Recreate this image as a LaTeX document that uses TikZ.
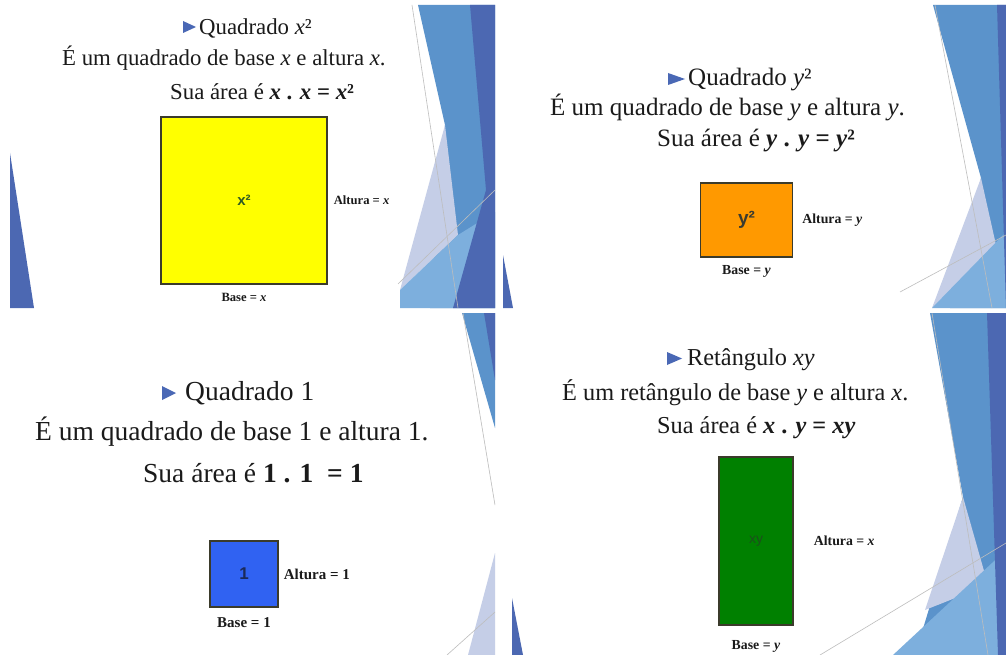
\documentclass[tikz,border=0pt]{standalone}
\usepackage{fontspec}
\setmainfont{Liberation Serif}
\newfontfamily\labelsans{Liberation Sans}
\usetikzlibrary{positioning}
\definecolor{facetmid}{HTML}{5B93CB}
\definecolor{facetdark}{HTML}{4C68B2}
\definecolor{facetlav}{HTML}{C5CEE7}
\definecolor{facetlight}{HTML}{7DAFDD}
\definecolor{facetgrey}{HTML}{BDBDBD}
\definecolor{bulletblue}{HTML}{4A68B5}
\definecolor{slideink}{HTML}{1A1A1A}
\definecolor{boxedge}{HTML}{3B3B2B}
\definecolor{boxyellow}{HTML}{FFFF00}
\definecolor{boxorange}{HTML}{FF9900}
\definecolor{boxblue}{HTML}{3062F2}
\definecolor{boxgreen}{HTML}{008000}
\newcommand\ptsize[1]{\fontsize{#1}{#1}\selectfont}
\tikzset{
  slideline/.style={anchor=base west,inner sep=0pt,text=slideink},
  areabox/.style={draw=boxedge,line width=1.3pt,inner sep=0pt},
  sidelabel/.style={inner sep=0pt,text=slideink},
  facetline/.style={draw=facetgrey,line width=0.6pt}
}
\begin{document}
\begin{tikzpicture}[x=1pt,y=-1pt]
\useasboundingbox (0,0) rectangle (1006,655);
\fill[white] (0,0) rectangle (1006,655);
\begin{scope}
\clip (10,5) rectangle (495,308);
\fill[facetmid] (418,5) -- (495,5) -- (495,308) -- (430,308) -- (445,125) -- cycle;
\fill[facetlav] (445,125) -- (458,235) -- (400,290) -- cycle;
\fill[facetlight] (400,290) -- (458,235) -- (495,212) -- (495,308) -- (400,308) -- cycle;
\fill[facetdark] (470,5) -- (495,5) -- (495,308) -- (453,308) -- (486,190) -- cycle;
\draw[facetline] (412,5) -- (458,308);
\draw[facetline] (398,284) -- (495,190);
\fill[facetdark] (10,153) -- (34,308) -- (10,308) -- cycle;
\end{scope}
\begin{scope}
\clip (503,5) rectangle (1006,308);
\fill[facetmid] (933,5) -- (1006,5) -- (1006,308) -- (950,308) -- (981,178) -- cycle;
\fill[facetlav] (981,178) -- (996,245) -- (932,308) -- cycle;
\fill[facetlight] (932,308) -- (1006,232) -- (1006,308) -- cycle;
\fill[facetdark] (997,5) -- (1006,5) -- (1006,308) -- cycle;
\draw[facetline] (935,5) -- (992,308);
\draw[facetline] (900,292) -- (1006,235);
\fill[facetdark] (503,255) -- (513,308) -- (503,308) -- cycle;
\end{scope}
\begin{scope}
\clip (10,313) rectangle (495,655);
\fill[facetmid] (462,313) -- (495,313) -- (495,428) -- cycle;
\fill[facetdark] (484,313) -- (495,313) -- (495,380) -- cycle;
\fill[facetlav] (468,655) -- (495,553) -- (495,655) -- cycle;
\draw[facetline] (463,313) -- (495,505);
\draw[facetline] (447,655) -- (495,612);
\end{scope}
\begin{scope}
\clip (503,313) rectangle (1006,655);
\fill[facetmid] (930,313) -- (1006,313) -- (1006,655) -- (915,655) -- (963,497) -- cycle;
\fill[facetlav] (963,497) -- (988,585) -- (925,610) -- cycle;
\fill[facetlight] (893,655) -- (1006,550) -- (1006,655) -- cycle;
\fill[facetdark] (987,313) -- (1006,313) -- (1006,655) -- (998,655) -- cycle;
\draw[facetline] (932,313) -- (988,655);
\draw[facetline] (820,655) -- (1006,543);
\fill[facetdark] (512,598) -- (523,655) -- (512,655) -- cycle;
\end{scope}

\fill[bulletblue] (183,21) -- (196,27) -- (183,33) -- cycle;
\node(titlexx) at (199,35)[slideline,font=\ptsize{22.8}] {Quadrado \textit{x}²};
\node(basexx) at (62,66)[slideline,font=\ptsize{22.8}] {É um quadrado de base \textit{x} e altura \textit{x}.};
\node(areaxx) at (170,100)[slideline,font=\ptsize{22.8}] {Sua área é \textbf{\textit{x} . \textit{x} = \textit{x}²}};
\node(boxxx) at (244,200.5)[areabox,fill=boxyellow,minimum width=166pt,minimum height=167pt,text={rgb,255:red,47;green,90;blue,34},font=\labelsans\bfseries\ptsize{15}] {x²};
\node(altxx)[right=6pt of boxxx,sidelabel,font=\bfseries\ptsize{12.6}] {Altura = \textit{x}};
\node(bxx)[below=8pt of boxxx,sidelabel,font=\bfseries\ptsize{12.6}] {Base = \textit{x}};

\fill[bulletblue] (668,73) -- (685,79) -- (668,85) -- cycle;
\node(titleyy) at (688,86)[slideline,font=\ptsize{25}] {Quadrado \textit{y}²};
\node(baseyy) at (550,116)[slideline,font=\ptsize{25}] {É um quadrado de base \textit{y} e altura \textit{y}.};
\node(areayy) at (657,147)[slideline,font=\ptsize{25}] {Sua área é \textbf{\textit{y} . \textit{y} = \textit{y}²}};
\node(boxyy) at (746.5,220)[areabox,fill=boxorange,minimum width=92pt,minimum height=74pt,text={rgb,255:red,59;green,59;blue,48},font=\labelsans\bfseries\ptsize{19}] {y²};
\node(altyy)[right=9pt of boxyy,sidelabel,font=\bfseries\ptsize{13.8}] {Altura = \textit{y}};
\node(byy)[below=8pt of boxyy,sidelabel,font=\bfseries\ptsize{13.8}] {Base = \textit{y}};

\fill[bulletblue] (162,386) -- (176,393) -- (162,400) -- cycle;
\node(titleone) at (185,400)[slideline,font=\ptsize{27.5}] {Quadrado 1};
\node(baseone) at (35,440)[slideline,font=\ptsize{27.5}] {É um quadrado de base 1 e altura 1.};
\node(areaone) at (143,482)[slideline,font=\ptsize{27.5}] {Sua área é \textbf{1 . 1 \ = 1}};
\node(boxone) at (244,574)[areabox,fill=boxblue,minimum width=68pt,minimum height=66pt,text={rgb,255:red,27;green,42;blue,90},font=\labelsans\bfseries\ptsize{17}] {1};
\node(altone)[right=5pt of boxone,sidelabel,font=\bfseries\ptsize{15}] {Altura = 1};
\node(bone)[below=10pt of boxone,sidelabel,font=\bfseries\ptsize{15}] {Base = 1};

\fill[bulletblue] (667,352) -- (682,358.5) -- (667,365) -- cycle;
\node(titlexy) at (687,365)[slideline,font=\ptsize{24.3}] {Retângulo \textit{xy}};
\node(basexy) at (562,400)[slideline,font=\ptsize{24.3}] {É um retângulo de base \textit{y} e altura \textit{x}.};
\node(areaxy) at (657,433)[slideline,font=\ptsize{24.3}] {Sua área é \textbf{\textit{x} . \textit{y} = \textit{xy}}};
\node(boxxy) at (756,541)[areabox,fill=boxgreen,minimum width=74pt,minimum height=168pt,text={rgb,255:red,28;green,79;blue,28},font=\labelsans\ptsize{14}] {xy};
\node(altxy)[right=20pt of boxxy,sidelabel,font=\bfseries\ptsize{13.8}] {Altura = \textit{x}};
\node(bxy)[below=15pt of boxxy,sidelabel,font=\bfseries\ptsize{13.8}] {Base = \textit{y}};
\end{tikzpicture}
\end{document}
